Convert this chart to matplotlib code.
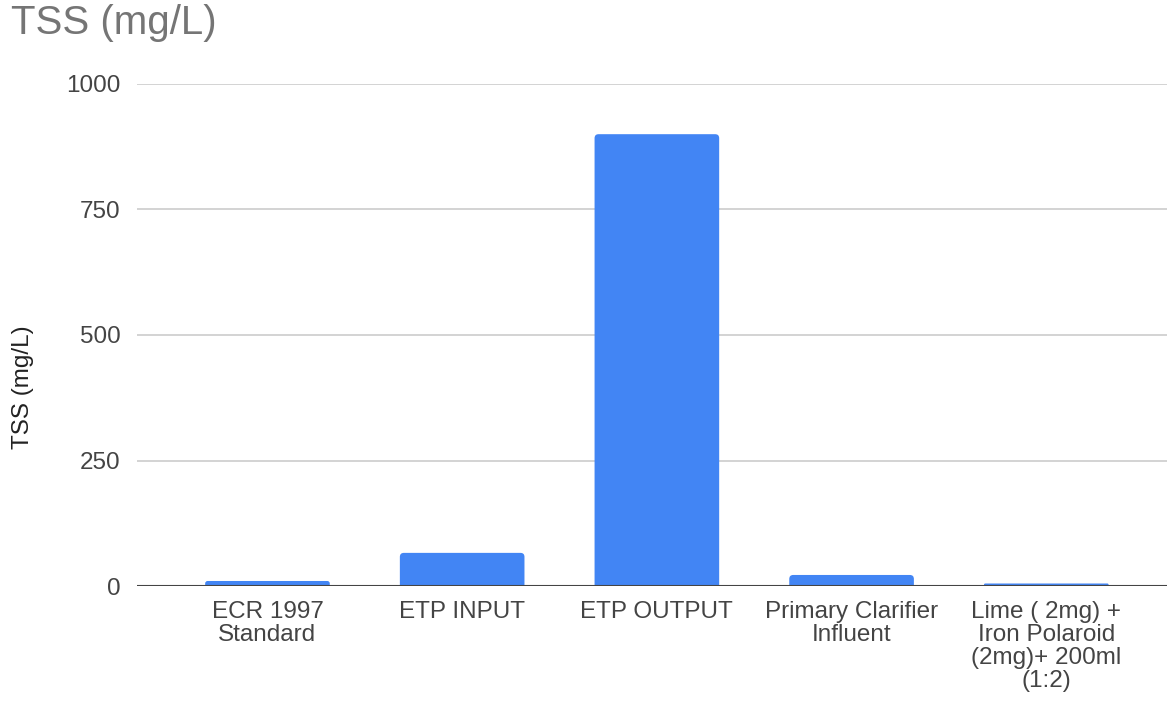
import matplotlib
matplotlib.use("Agg")
import matplotlib.pyplot as plt
from matplotlib.path import Path
from matplotlib.patches import PathPatch

plt.rcParams['font.family'] = ['Liberation Sans', 'DejaVu Sans']

categories = [
    "ECR 1997\nStandard",
    "ETP INPUT",
    "ETP OUTPUT",
    "Primary Clarifier\nInfluent",
    "Lime ( 2mg) +\nIron Polaroid\n(2mg)+ 200ml\n(1:2)",
]
tss_values = [10, 66, 900, 22, 5]
y_ticks = [0, 250, 500, 750, 1000]

BAR_COLOR = "#4285F4"

fig = plt.figure(figsize=(11.67, 7.04), dpi=100)
ax = fig.add_axes([0.1174, 0.1676, 0.8826, 0.7131])

x = list(range(len(categories)))
bars = ax.bar(x, tss_values, width=0.64, color=BAR_COLOR, zorder=3)

ax.set_xlim(-0.67, 4.62)
ax.set_ylim(0, 1000)


def round_top(rect, radius_px=4.0):
    """Replace a bar rectangle with one whose top corners are rounded."""
    x0, y0 = rect.get_x(), rect.get_y()
    w, h = rect.get_width(), rect.get_height()
    p0 = ax.transData.transform((0, 0))
    p1 = ax.transData.transform((1, 1))
    sx = abs(p1[0] - p0[0])  # pixels per x unit
    sy = abs(p1[1] - p0[1])  # pixels per y unit
    r_px = min(radius_px, h * sy / 2.0, w * sx / 2.0)
    rx, ry = r_px / sx, r_px / sy
    x1, y1 = x0 + w, y0 + h
    verts = [
        (x0, y0), (x0, y1 - ry), (x0, y1), (x0 + rx, y1),
        (x1 - rx, y1), (x1, y1), (x1, y1 - ry), (x1, y0), (x0, y0),
    ]
    codes = [
        Path.MOVETO, Path.LINETO, Path.CURVE3, Path.CURVE3,
        Path.LINETO, Path.CURVE3, Path.CURVE3, Path.LINETO, Path.CLOSEPOLY,
    ]
    patch = PathPatch(Path(verts, codes), facecolor=rect.get_facecolor(),
                      edgecolor="none", zorder=3)
    rect.set_visible(False)
    ax.add_patch(patch)


for b in bars:
    round_top(b)

ax.set_yticks(y_ticks)
ax.set_yticklabels([str(v) for v in y_ticks])
ax.set_xticks(x)
ax.set_xticklabels(categories, linespacing=1.06, va="top")

ax.grid(axis="y", color="#cccccc", linewidth=1.2, zorder=0)
ax.axhline(0, color="#444444", linewidth=1.5, zorder=4)
for side in ["top", "right", "left", "bottom"]:
    ax.spines[side].set_visible(False)
ax.tick_params(axis="both", length=0, labelsize=17.5, labelcolor="#444444")
ax.tick_params(axis="x", pad=11)
ax.tick_params(axis="y", pad=12)

ax.set_ylabel("TSS (mg/L)", fontsize=17.5, color="#222222")
ax.yaxis.set_label_coords(-0.1, 0.396)
fig.text(0.009, 0.995, "TSS (mg/L)", fontsize=29, color="#757575",
         ha="left", va="top")

fig.savefig("out.png", dpi=100)
